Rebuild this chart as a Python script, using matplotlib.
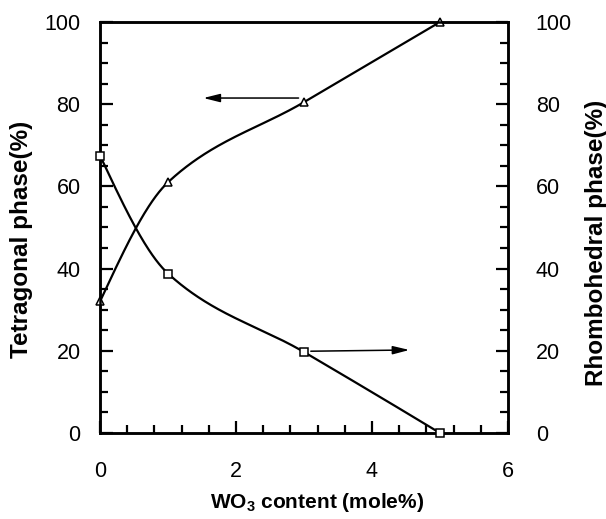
import numpy as np
import matplotlib
matplotlib.use("Agg")
import matplotlib.pyplot as plt
from matplotlib.ticker import MultipleLocator

plt.rcParams['font.family'] = ['Liberation Sans', 'DejaVu Sans']
plt.rcParams['mathtext.default'] = 'regular'

wo3 = [0, 1, 3, 5]
tetragonal = [32, 61, 80.5, 100]
rhombohedral = [67.5, 38.8, 19.7, 0]


def pchip(x, y, n=300):
    x = np.asarray(x, float)
    y = np.asarray(y, float)
    h = np.diff(x)
    delta = np.diff(y) / h
    m = len(x)
    d = np.zeros(m)
    for k in range(1, m - 1):
        if delta[k - 1] * delta[k] > 0:
            w1 = 2 * h[k] + h[k - 1]
            w2 = h[k] + 2 * h[k - 1]
            d[k] = (w1 + w2) / (w1 / delta[k - 1] + w2 / delta[k])
    d[0] = ((2 * h[0] + h[1]) * delta[0] - h[0] * delta[1]) / (h[0] + h[1])
    if np.sign(d[0]) != np.sign(delta[0]):
        d[0] = 0
    d[-1] = ((2 * h[-1] + h[-2]) * delta[-1] - h[-1] * delta[-2]) / (h[-1] + h[-2])
    if np.sign(d[-1]) != np.sign(delta[-1]):
        d[-1] = 0
    xs = np.linspace(x[0], x[-1], n)
    ys = np.empty_like(xs)
    for j, xv in enumerate(xs):
        i = min(np.searchsorted(x, xv, side='right') - 1, m - 2)
        t = (xv - x[i]) / h[i]
        h00 = 2 * t**3 - 3 * t**2 + 1
        h10 = t**3 - 2 * t**2 + t
        h01 = -2 * t**3 + 3 * t**2
        h11 = t**3 - t**2
        ys[j] = h00 * y[i] + h10 * h[i] * d[i] + h01 * y[i + 1] + h11 * h[i] * d[i + 1]
    return xs, ys


W, H = 606, 519
fig = plt.figure(figsize=(W / 100, H / 100), dpi=100)
ax = fig.add_axes([100 / W, 1 - 433 / H, 408 / W, 411 / H])
ax2 = ax.twinx()

xs, ys = pchip(wo3, tetragonal)
ax.plot(xs, ys, color='black', lw=1.6)
ax.plot(wo3, tetragonal, linestyle='none', marker='^', ms=6, mfc='white',
        mec='black', mew=1.1, clip_on=False, zorder=5)

xs2, ys2 = pchip(wo3, rhombohedral)
ax2.plot(xs2, ys2, color='black', lw=1.6)
ax2.plot(wo3, rhombohedral, linestyle='none', marker='s', ms=5.5, mfc='white',
         mec='black', mew=1.1, clip_on=False, zorder=5)

for a in (ax, ax2):
    a.set_xlim(0, 6)
    a.set_ylim(0, 100)
    for s in a.spines.values():
        s.set_linewidth(1.8)

ax.xaxis.set_major_locator(MultipleLocator(2))
ax.xaxis.set_minor_locator(MultipleLocator(0.4))
ax.yaxis.set_major_locator(MultipleLocator(20))
ax.yaxis.set_minor_locator(MultipleLocator(5))
ax2.yaxis.set_major_locator(MultipleLocator(20))
ax2.yaxis.set_minor_locator(MultipleLocator(5))

ax.tick_params(axis='x', which='both', direction='in', top=False, width=1.6, labelsize=15.5, pad=20)
ax.tick_params(axis='x', which='major', length=9)
ax.tick_params(axis='x', which='minor', length=6)
ax.tick_params(axis='y', which='both', direction='in', right=False, width=1.6, labelsize=15.5, pad=14)
ax.tick_params(axis='y', which='major', length=9)
ax.tick_params(axis='y', which='minor', length=6)
ax2.tick_params(axis='y', which='both', direction='in', width=1.6, labelsize=15.5, pad=20)
ax2.tick_params(axis='y', which='major', length=9)
ax2.tick_params(axis='y', which='minor', length=6)

fig.text(317 / W, 1 - 503 / H, 'WO$_3$ content (mole%)', fontsize=15, fontweight='bold',
         ha='center', va='center')
fig.text(22 / W, 1 - 239 / H, 'Tetragonal phase(%)', fontsize=17.5, fontweight='bold',
         ha='center', va='center', rotation=90)
fig.text(596 / W, 1 - 243 / H, 'Rhombohedral phase(%)', fontsize=17.5, fontweight='bold',
         ha='center', va='center', rotation=90)

arrow = dict(arrowstyle='-|>,head_length=1.0,head_width=0.25', color='black', lw=1.1,
             shrinkA=0, shrinkB=0)
ax.annotate('', xy=(1.52, 81.5), xytext=(2.92, 81.5), arrowprops=arrow)
ax2.annotate('', xy=(4.55, 20.2), xytext=(3.1, 19.9), arrowprops=arrow)

fig.savefig('out.png', dpi=100)
